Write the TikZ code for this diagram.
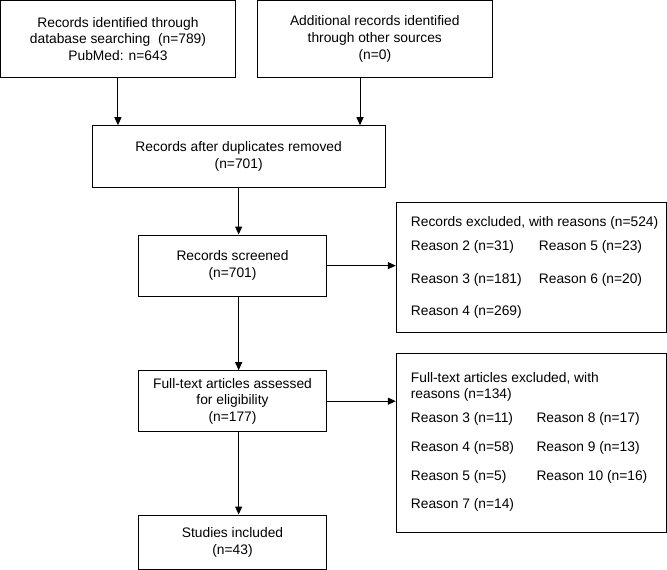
\documentclass[tikz,border=0pt]{standalone}
\usepackage{fontspec}
\setmainfont{Liberation Sans}
\usetikzlibrary{arrows.meta}
\tikzset{
  box/.style={draw=black, line width=1pt, rectangle, inner sep=0pt, align=center,
    font=\fontsize{13.8}{16.6}\selectfont},
  txt/.style={anchor=west, inner sep=0pt, font=\fontsize{13.8}{16.6}\selectfont},
  arr/.style={draw=black, line width=1pt, -{Triangle[length=8pt,width=7pt]}}
}
\begin{document}
\begin{tikzpicture}[x=1pt,y=-1pt]
\useasboundingbox (0,0) rectangle (667,570);
% main boxes
\node[box, minimum width=234.7pt, minimum height=76.7pt] (b1) at (117.95,38.95)
  {Records identified through\\database searching~ (n=789)\\PubMed: n=643};
\node[box, minimum width=235pt, minimum height=76.7pt] (b2) at (374.8,38.95)
  {Additional records identified\\through other sources\\(n=0)};
\node[box, minimum width=292.7pt, minimum height=61.6pt] (b3) at (238.65,156.5)
  {Records after duplicates removed\\(n=701)};
\node[box, minimum width=188.4pt, minimum height=61.3pt] (scr) at (232.5,265.65)
  {Records screened\\(n=701)};
\node[box, minimum width=188.4pt, minimum height=61pt] (ft) at (232.5,401.2)
  {Full-text articles assessed\\for eligibility\\(n=177)};
\node[box, minimum width=188.4pt, minimum height=54.3pt] (inc) at (232.5,542.15)
  {Studies included\\(n=43)};
% exclusion boxes
\node[box, minimum width=269.7pt, minimum height=129.6pt] (ex1) at (531.15,267.5) {};
\node[box, minimum width=269.7pt, minimum height=179pt] (ex2) at (531.15,442.8) {};
% exclusion texts
\node[txt] (e1t) at (410.7,223.3) {Records excluded, with reasons (n=524)};
\node[txt] (e1a) at (410.7,247) {Reason 2 (n=31)};
\node[txt] (e1b) at (410.7,280) {Reason 3 (n=181)};
\node[txt] (e1c) at (410.7,311.7) {Reason 4 (n=269)};
\node[txt] (e1d) at (538.7,247) {Reason 5 (n=23)};
\node[txt] (e1e) at (538.7,280) {Reason 6 (n=20)};
\node[txt] (e2t) at (410.7,378.3) {Full-text articles excluded, with};
\node[txt] (e2u) at (410.7,395) {reasons (n=134)};
\node[txt] (e2a) at (410.7,419) {Reason 3 (n=11)};
\node[txt] (e2b) at (410.7,447.7) {Reason 4 (n=58)};
\node[txt] (e2c) at (410.7,476.7) {Reason 5 (n=5)};
\node[txt] (e2d) at (410.7,505) {Reason 7 (n=14)};
\node[txt] (e2e) at (536.3,419) {Reason 8 (n=17)};
\node[txt] (e2f) at (536.3,447.7) {Reason 9 (n=13)};
\node[txt] (e2g) at (536.3,476.7) {Reason 10 (n=16)};
% connectors
\coordinate (c2) at ([xshift=-14.8pt]b2.south);
\draw[arr] (b1.south) -- (b1.south |- b3.north);
\draw[arr] (c2) -- (c2 |- b3.north);
\draw[arr] (b3.south) -- (b3.south |- scr.north);
\draw[arr] (b3.south |- scr.south) -- (b3.south |- ft.north);
\draw[arr] (b3.south |- ft.south) -- (b3.south |- inc.north);
\draw[arr] (scr.east) -- (scr.east -| ex1.west);
\draw[arr] (ft.east) -- (ft.east -| ex2.west);
\end{tikzpicture}
\end{document}
